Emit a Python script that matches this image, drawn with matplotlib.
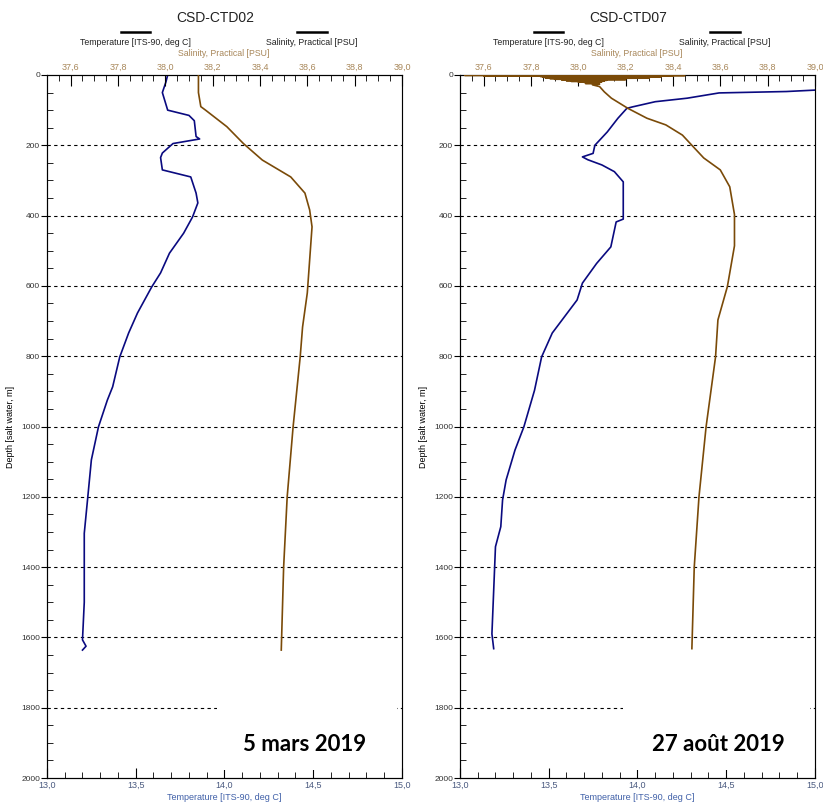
import numpy as np
import matplotlib
matplotlib.use('Agg')
import matplotlib.pyplot as plt
from matplotlib.ticker import MultipleLocator, FuncFormatter
from matplotlib.patches import Rectangle

plt.rcParams['font.family'] = ['Liberation Sans', 'DejaVu Sans']

# ---- CSD-CTD02 (5 mars 2019) ----
t02_depth = [0, 20, 50, 100, 115, 130, 175, 182, 195, 222, 235, 270, 290, 336, 364, 404, 450,
             507, 563, 603, 640, 677, 734, 802, 887, 925, 1001, 1095, 1200, 1304, 1400, 1500,
             1607, 1625, 1636]
t02_temp = [13.68, 13.67, 13.65, 13.68, 13.80, 13.83, 13.84, 13.86, 13.71, 13.65, 13.64, 13.65,
            13.81, 13.84, 13.85, 13.82, 13.77, 13.69, 13.64, 13.59, 13.55, 13.51, 13.46, 13.41,
            13.37, 13.34, 13.29, 13.25, 13.23, 13.21, 13.21, 13.21, 13.20, 13.22, 13.20]
s02_depth = [0, 50, 90, 100, 147, 195, 242, 290, 336, 384, 432, 526, 620, 717, 802, 1001, 1200,
             1400, 1636]
s02_sal = [38.14, 38.14, 38.15, 38.17, 38.26, 38.33, 38.41, 38.53, 38.59, 38.61, 38.62, 38.61,
           38.60, 38.58, 38.57, 38.54, 38.515, 38.50, 38.49]

# ---- CSD-CTD07 (27 août 2019) ----
t07_depth = [0, 20, 35, 43, 47, 51, 66, 76, 91, 95, 123, 162, 200, 223, 233, 241, 256, 275, 304,
             346, 410, 418, 489, 536, 592, 640, 734, 802, 897, 1001, 1067, 1152, 1209, 1285, 1342,
             1590, 1632]
t07_temp = [15.4, 15.3, 15.1, 15.0, 14.84, 14.46, 14.28, 14.10, 13.97, 13.94, 13.89, 13.83, 13.76,
            13.75, 13.69, 13.72, 13.80, 13.87, 13.92, 13.92, 13.92, 13.88, 13.85, 13.77, 13.69,
            13.66, 13.52, 13.46, 13.42, 13.36, 13.31, 13.26, 13.24, 13.23, 13.20, 13.18, 13.19]
# the near-surface salinity trace swings back and forth (spikes of the sensor)
s07_depth = [0, 1, 1.5, 2, 2.5, 3, 3.5, 4, 5, 6, 7, 8, 9, 10, 11, 12, 13, 14, 15, 16, 17, 18,
             19, 20, 22, 24, 26, 28, 33, 48, 66, 95, 123, 142, 171, 200, 236, 270, 318, 397, 486,
             602, 697, 802, 1001, 1200, 1400, 1632]
s07_sal = [38.0, 37.52, 38.45, 37.60, 38.40, 37.82, 38.12, 37.84, 38.35, 37.85, 38.12, 37.86,
           38.30, 37.88, 38.12, 37.90, 38.20, 37.93, 38.12, 37.95, 38.11, 37.97, 38.10, 38.00,
           38.09, 38.03, 38.09, 38.06, 38.09, 38.11, 38.14, 38.21, 38.29, 38.37, 38.44, 38.48,
           38.53, 38.60, 38.64, 38.66, 38.66, 38.63, 38.59, 38.58, 38.54, 38.51, 38.49, 38.48]

stations = ['CSD-CTD02', 'CSD-CTD07']
dates = ['5 mars 2019', '27 août 2019']

temp_col = '#0a0a80'
sal_col = '#7a4a08'
sal_txt = '#a8875a'
temp_txt = '#4060a8'

comma = FuncFormatter(lambda v, p: ('%.1f' % v).replace('.', ','))

fig = plt.figure(figsize=(8.23, 8.09), dpi=100)
panels = [(0.0571, t02_depth, t02_temp, s02_depth, s02_sal, 0.479),
          (0.5589, t07_depth, t07_temp, s07_depth, s07_sal, 0.46)]

for i, (left, td, tv, sd, sv, box_x) in enumerate(panels):
    ax = fig.add_axes([left, 0.0383, 0.4313, 0.869])
    ax.set_xlim(13.0, 15.0)
    ax.set_ylim(2000, 0)
    ax.plot(tv, td, color=temp_col, lw=1.2, zorder=3)

    ax.yaxis.set_major_locator(MultipleLocator(200))
    ax.yaxis.set_minor_locator(MultipleLocator(50))
    ax.tick_params(axis='y', which='major', direction='out', length=4, labelsize=6,
                   labelcolor='#333333', pad=1)
    ax.tick_params(axis='y', which='minor', direction='in', length=4)
    ax.xaxis.set_major_locator(MultipleLocator(0.5))
    ax.xaxis.set_minor_locator(MultipleLocator(0.1))
    ax.xaxis.set_major_formatter(comma)
    ax.tick_params(axis='x', which='major', direction='in', length=7, labelsize=6.5,
                   labelcolor='#4a5a80', pad=2)
    ax.tick_params(axis='x', which='minor', direction='in', length=4)
    ax.set_xlabel('Temperature [ITS-90, deg C]', fontsize=6.5, color=temp_txt, labelpad=2)
    ax.set_ylabel('Depth [salt water, m]', fontsize=6.5, labelpad=4)
    ax.spines['right'].set_color('#888888')
    for d in range(200, 2000, 200):
        ax.axhline(d, color='black', lw=0.8, ls=(0, (3, 3)), zorder=1)

    ax2 = ax.twiny()
    ax2.set_xlim(37.5, 39.0)
    ax2.plot(sv, sd, color=sal_col, lw=1.2, zorder=3)
    ax2.xaxis.set_major_locator(MultipleLocator(0.2))
    ax2.xaxis.set_minor_locator(MultipleLocator(0.05))
    ax2.xaxis.set_major_formatter(comma)
    ax2.tick_params(axis='x', which='major', direction='in', length=8, labelsize=6.5,
                    labelcolor=sal_txt, pad=2)
    ax2.tick_params(axis='x', which='minor', direction='in', length=4)
    ax2.set_ylim(2000, 0)

    # header: title and legend keys
    ax.text(0.473, 1.081, stations[i], transform=ax.transAxes, ha='center', va='center',
            fontsize=10, color='#222222')
    ax.plot([0.208, 0.290], [1.061, 1.061], transform=ax.transAxes, color='black', lw=1.8,
            clip_on=False)
    ax.plot([0.704, 0.789], [1.061, 1.061], transform=ax.transAxes, color='black', lw=1.8,
            clip_on=False)
    ax.text(0.248, 1.046, 'Temperature [ITS-90, deg C]', transform=ax.transAxes, ha='center',
            va='center', fontsize=6.3, color='#222222')
    ax.text(0.746, 1.046, 'Salinity, Practical [PSU]', transform=ax.transAxes, ha='center',
            va='center', fontsize=6.3, color='#222222')
    ax.text(0.497, 1.031, 'Salinity, Practical [PSU]', transform=ax.transAxes, ha='center',
            va='center', fontsize=6.3, color=sal_txt)

    # pasted date label with white background
    ax2.add_patch(Rectangle((box_x, 0.012), 0.985 - box_x, 0.12, transform=ax.transAxes,
                            facecolor='white', edgecolor='none', zorder=4))
    ax2.text(0.727, 0.047, dates[i], transform=ax.transAxes, ha='center', va='center',
             fontsize=16, fontweight='bold', family=['Lato', 'DejaVu Sans'], zorder=5)

fig.savefig('out.png', dpi=100)
